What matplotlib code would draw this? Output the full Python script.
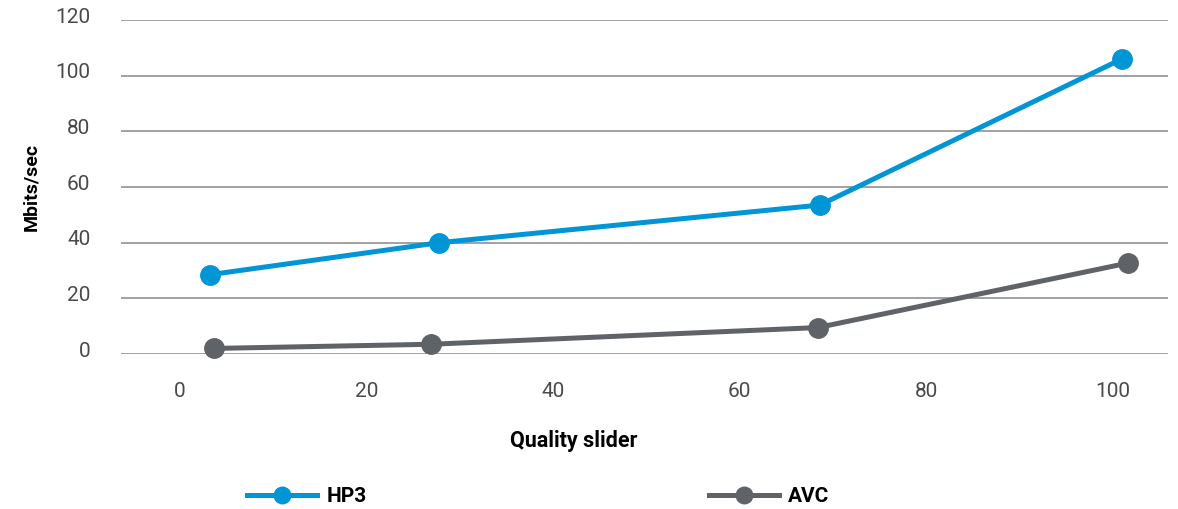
import matplotlib
matplotlib.use("Agg")
import matplotlib.pyplot as plt
import matplotlib.transforms as mtransforms

plt.rcParams['font.family'] = ['Roboto', 'DejaVu Sans']

# data
hp3_x = [3.2, 27.8, 68.6, 101.0]
hp3_y = [28.5, 40.0, 53.5, 106.0]
avc_x = [3.6, 26.9, 68.4, 101.7]
avc_y = [2.0, 3.5, 9.5, 32.7]
x_ticks = [0, 20, 40, 60, 80, 100]
y_ticks = [0, 20, 40, 60, 80, 100, 120]

blue = "#0096d6"
gray = "#5f6368"

fig = plt.figure(figsize=(11.78, 5.09), dpi=100)
ax = fig.add_axes([0.1027, 0.3045, 0.8888, 0.6562])

ax.plot(hp3_x, hp3_y, color=blue, lw=3.6, marker="o", ms=14, label="HP3", clip_on=False, zorder=3)
ax.plot(avc_x, avc_y, color=gray, lw=3.6, marker="o", ms=14, label="AVC", clip_on=False, zorder=3)

ax.set_xlim(-6.33, 105.95)
ax.set_ylim(0, 120)
ax.set_xticks(x_ticks)
ax.set_yticks(y_ticks)
ax.grid(axis="y", color="#9a9a9a", lw=1.3)
ax.set_axisbelow(True)
for s in ax.spines.values():
    s.set_visible(False)
ax.tick_params(length=0, labelsize=15, labelcolor="#4a4a4a")
ax.tick_params(axis="y", pad=22)
ax.tick_params(axis="x", pad=20)

# y labels sit a little above their gridlines
offset = mtransforms.ScaledTranslation(0, 5 / 100, fig.dpi_scale_trans)
for lab in ax.get_yticklabels():
    lab.set_transform(lab.get_transform() + offset)

ax.set_ylabel("Mbits/sec", fontsize=14, fontweight="bold")
ax.yaxis.set_label_coords(-0.077, 0.5)
ax.set_xlabel("Quality slider", fontsize=15.5, fontweight="bold")
ax.xaxis.set_label_coords(0.432, -0.227)

fig.legend(loc="center", bbox_to_anchor=(0.457, 0.024), ncol=2, frameon=False,
           prop={"weight": "bold", "size": 15}, handlelength=3.37,
           markerscale=0.85, columnspacing=16.4, handletextpad=0.45)

fig.savefig("out.png", dpi=100)
